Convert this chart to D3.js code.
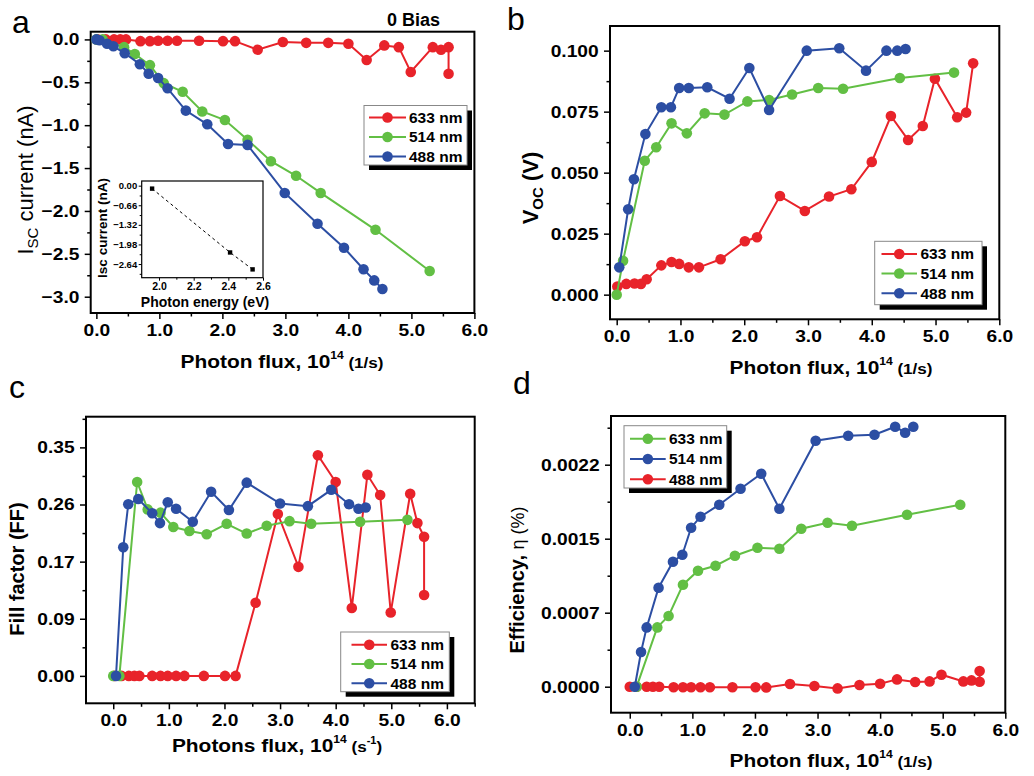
<!DOCTYPE html>
<html><head><meta charset="utf-8">
<script src="https://cdn.jsdelivr.net/npm/d3@7"></script>
<style>
body{margin:0;background:#fff}
svg{display:block}
text{font-family:"Liberation Sans",Arial,sans-serif}
</style></head><body>
<svg id="fig" width="1034" height="776"></svg>
<script>
// ---------- colours ----------
const RED = "#e8232a", GREEN = "#62bf44", BLUE = "#2c4ea3";

// ---------- (a) short-circuit current vs photon flux ----------
const aFlux633 = [0.02,0.15,0.28,0.38,0.47,0.70,0.85,0.98,1.13,1.28,1.63,2.01,2.20,2.56,2.96,3.33,3.68,4.00,4.29,4.57,4.80,4.99,5.34,5.47,5.59,5.59];
const aIsc633  = [0,0,0,0,0,-0.02,-0.02,-0.015,-0.015,-0.015,-0.015,-0.02,-0.02,-0.12,-0.03,-0.04,-0.04,-0.05,-0.24,-0.07,-0.09,-0.38,-0.09,-0.12,-0.09,-0.40];
const aFlux514 = [0,0.10,0.44,0.61,0.85,1.07,1.37,1.68,2.04,2.40,2.77,3.17,3.56,4.43,5.29];
const aIsc514  = [0,0,-0.09,-0.17,-0.30,-0.51,-0.61,-0.84,-0.94,-1.17,-1.42,-1.59,-1.79,-2.22,-2.70];
const aFlux488 = [0,0.05,0.17,0.27,0.45,0.69,0.83,0.98,1.13,1.42,1.76,2.09,2.40,2.99,3.51,3.93,4.24,4.41,4.54];
const aIsc488  = [0,-0.01,-0.05,-0.08,-0.16,-0.29,-0.40,-0.45,-0.57,-0.83,-0.99,-1.22,-1.23,-1.79,-2.15,-2.43,-2.68,-2.81,-2.91];
const aYTicks  = [0,-0.5,-1.0,-1.5,-2.0,-2.5,-3.0];

// inset of (a): Isc against photon energy
const insetEnergy = [1.96, 2.41, 2.54];
const insetIsc    = [-0.10, -2.25, -2.82];
const insetYTicks = [0, -0.66, -1.32, -1.98, -2.64];
const insetXTicks = [2.0, 2.2, 2.4, 2.6];

// ---------- (b) open-circuit voltage ----------
const bFlux633 = [0.01,0.15,0.28,0.38,0.47,0.70,0.86,0.98,1.13,1.29,1.63,2.01,2.20,2.56,2.95,3.33,3.68,4.00,4.30,4.57,4.80,4.99,5.34,5.48,5.59];
const bVoc633  = [0.0033,0.0044,0.0046,0.0044,0.0063,0.0120,0.0134,0.0126,0.0112,0.0112,0.0145,0.0219,0.0235,0.0404,0.0343,0.0402,0.0432,0.0544,0.0732,0.0634,0.0691,0.0885,0.0727,0.0746,0.0948];
const bFlux514 = [0,0.10,0.44,0.62,0.86,1.10,1.38,1.69,2.05,2.39,2.75,3.16,3.55,4.44,5.29];
const bVoc514  = [0,0.0139,0.0549,0.0604,0.0702,0.0661,0.0743,0.0738,0.0792,0.0798,0.0820,0.0847,0.0844,0.0888,0.0910];
const bFlux488 = [0.04,0.18,0.27,0.45,0.70,0.85,0.98,1.13,1.42,1.77,2.08,2.39,2.98,3.49,3.91,4.23,4.40,4.53];
const bVoc488  = [0.0112,0.0350,0.0473,0.0658,0.0768,0.0768,0.0847,0.0847,0.0850,0.0803,0.0929,0.0757,0.1000,0.1010,0.0918,0.1000,0.1000,0.1007];
const bYTicks  = [0,0.025,0.05,0.075,0.1];

// ---------- (c) fill factor ----------
const cFlux633 = [0.02,0.15,0.28,0.38,0.47,0.70,0.85,0.98,1.13,1.28,1.63,2.01,2.20,2.56,2.96,3.33,3.68,4.00,4.29,4.57,4.80,4.99,5.34,5.47,5.59,5.59];
const cFF633   = [0,0,0,0,0,0,0,0,0,0,0,0,0,0.112,0.248,0.167,0.338,0.297,0.104,0.308,0.277,0.097,0.279,0.234,0.213,0.124];
const cFlux514 = [0,0.11,0.43,0.62,0.85,1.08,1.37,1.68,2.04,2.40,2.76,3.17,3.56,4.44,5.29];
const cFF514   = [0,0,0.297,0.255,0.250,0.228,0.222,0.217,0.233,0.218,0.230,0.237,0.233,0.236,0.239];
const cFlux488 = [0.05,0.18,0.27,0.45,0.70,0.84,0.98,1.13,1.43,1.76,2.08,2.40,3.00,3.50,3.92,4.24,4.41,4.54];
const cFF488   = [0,0.197,0.263,0.271,0.249,0.234,0.266,0.256,0.236,0.282,0.254,0.296,0.264,0.260,0.285,0.263,0.256,0.258];
const cYTicks  = [0,0.0875,0.175,0.2625,0.35];
const cYLabels = ["0.00","0.09","0.17","0.26","0.35"];

// ---------- (d) efficiency ----------
const dFluxG = [0.11,0.44,0.62,0.85,1.09,1.37,1.68,2.04,2.39,2.74,3.16,3.55,4.43,5.28];
const dEffG  = [0,0.000593,0.000707,0.00102,0.00116,0.00121,0.00131,0.00139,0.00138,0.00158,0.00164,0.00161,0.00172,0.00182];
const dFluxB = [0.08,0.18,0.27,0.46,0.69,0.84,0.98,1.13,1.43,1.77,2.10,2.39,2.97,3.49,3.91,4.24,4.40,4.53];
const dEffB  = [0,0.000347,0.000593,0.00099,0.00125,0.00132,0.00159,0.00170,0.00182,0.00198,0.00213,0.00178,0.00246,0.00251,0.00252,0.00260,0.00254,0.00260];
const dFluxR = [0,0.11,0.27,0.37,0.47,0.70,0.85,0.98,1.13,1.28,1.64,2.01,2.18,2.56,2.95,3.32,3.67,4.00,4.27,4.56,4.79,4.98,5.33,5.46,5.59,5.59];
const dEffR  = [0,0,0,0,0,-0.000005,-0.000005,-0.000005,-0.000005,-0.000005,-0.000005,-0.000005,-0.000007,0.000027,0.000007,-0.000017,0.000017,0.00003,0.000073,0.000047,0.000053,0.00012,0.000053,0.000063,0.00005,0.000157];
const dYTicks  = [0,0.00074,0.00148,0.00222];
const dYLabels = ["0.0000","0.0007","0.0015","0.0022"];

const fluxTicks = [0,1,2,3,4,5,6];
const legendNames = ["633 nm","514 nm","488 nm"];

// ---------- drawing helpers ----------
const svg = d3.select("#fig");
const FONT = '"Liberation Sans", Arial, sans-serif';
const STRETCH = 1.13;   // tick labels are set slightly wide

function styleAxis(sel, size, stretch) {
  sel.select(".domain").remove();
  sel.attr("font-family", FONT).attr("font-size", size).attr("font-weight", "bold");
  sel.selectAll("line").attr("stroke", "#000").attr("stroke-width", 1.5);
  sel.selectAll("text").attr("fill", "#000");
  if (stretch) sel.selectAll("text").attr("transform", `scale(${stretch},1)`);
}

function drawPanel(p) {
  const g = svg.append("g");
  const [fx0, fy0, fx1, fy1] = p.frame;
  const x = d3.scaleLinear().domain(p.xDomain).range([fx0, fx1]);
  const y = d3.scaleLinear().domain(p.yDomain).range([fy1, fy0]);

  g.append("g").attr("transform", `translate(0,${fy1})`)
    .call(d3.axisBottom(x).tickValues(p.xMinor).tickSize(3.5).tickSizeOuter(0).tickFormat(""))
    .call(s => styleAxis(s, 17));
  g.append("g").attr("transform", `translate(0,${fy1})`)
    .call(d3.axisBottom(x).tickValues(p.xTicks).tickSize(6).tickPadding(5).tickSizeOuter(0).tickFormat(d3.format(".1f")))
    .call(s => styleAxis(s, 17, STRETCH));
  g.append("g").attr("transform", `translate(${fx0},0)`)
    .call(d3.axisLeft(y).tickValues(p.yMinor).tickSize(3.5).tickSizeOuter(0).tickFormat(""))
    .call(s => styleAxis(s, 17));
  g.append("g").attr("transform", `translate(${fx0},0)`)
    .call(d3.axisLeft(y).tickValues(p.yTicks).tickSize(6).tickPadding(4).tickSizeOuter(0).tickFormat(p.yFmt))
    .call(s => styleAxis(s, 17, STRETCH));

  g.append("rect").attr("x", fx0).attr("y", fy0).attr("width", fx1 - fx0).attr("height", fy1 - fy0)
    .attr("fill", "none").attr("stroke", "#000").attr("stroke-width", 2);

  const line = d3.line().x(d => x(d[0])).y(d => y(d[1]));
  p.series.forEach(s => {
    const pts = s.x.map((v, i) => [v, s.y[i]]);
    g.append("path").datum(pts).attr("d", line).attr("fill", "none")
      .attr("stroke", s.color).attr("stroke-width", 2);
    g.selectAll(null).data(pts).join("circle")
      .attr("cx", d => x(d[0])).attr("cy", d => y(d[1])).attr("r", 5.3).attr("fill", s.color);
  });

  // legend box with drop shadow
  const L = p.legend;
  g.append("rect").attr("x", L.x0 + 5).attr("y", L.y0 + 5).attr("width", L.x1 - L.x0).attr("height", L.y1 - L.y0).attr("fill", "#000");
  g.append("rect").attr("x", L.x0).attr("y", L.y0).attr("width", L.x1 - L.x0).attr("height", L.y1 - L.y0)
    .attr("fill", "#fff").attr("stroke", "#888").attr("stroke-width", 1);
  L.rows.forEach((r, i) => {
    const ry = L.rowY[i];
    g.append("line").attr("x1", L.lx0).attr("x2", L.lx1).attr("y1", ry).attr("y2", ry)
      .attr("stroke", r.color).attr("stroke-width", 2);
    g.append("circle").attr("cx", (L.lx0 + L.lx1) / 2).attr("cy", ry).attr("r", 5.3).attr("fill", r.color);
    g.append("text").attr("x", L.tx).attr("y", ry + 5.3).attr("font-size", 15.5).attr("font-weight", "bold")
      .attr("fill", "#000").text(r.label);
  });
  return {x, y, g};
}

function xTitle(cx, by, main, tail) {
  const t = svg.append("text").attr("transform", `translate(${cx},${by}) scale(1.1,1)`).attr("text-anchor", "middle")
    .attr("font-size", 19).attr("font-weight", "bold").attr("fill", "#000");
  t.append("tspan").text(main);
  t.append("tspan").attr("font-size", 11).attr("dy", -9).text("14");
  t.append("tspan").attr("dy", 9).attr("font-size", 15.5).text(" " + tail[0]);
  if (tail.length > 1) {
    t.append("tspan").attr("font-size", 10).attr("dy", -8).text(tail[1]);
    t.append("tspan").attr("font-size", 15.5).attr("dy", 8).text(tail[2]);
  }
}

function yTitle(bx, cy, parts, opts) {
  const t = svg.append("text").attr("transform", `translate(${bx},${cy}) rotate(-90)`)
    .attr("text-anchor", "middle").attr("font-size", opts.size).attr("font-weight", opts.weight)
    .attr("font-family", opts.family || FONT).attr("fill", "#000");
  parts.forEach(pt => {
    const s = t.append("tspan").text(pt.t);
    if (pt.size) s.attr("font-size", pt.size);
    if (pt.dy) s.attr("dy", pt.dy);
    if (pt.weight) s.attr("font-weight", pt.weight);
  });
}

function panelLetter(x, y, s) {
  svg.append("text").attr("x", x).attr("y", y).attr("font-family", '"Open Sans", sans-serif')
    .attr("font-size", 32).attr("fill", "#000").text(s);
}

// ---------- panel (a) ----------
const rows3 = [{label: legendNames[0], color: RED}, {label: legendNames[1], color: GREEN}, {label: legendNames[2], color: BLUE}];
drawPanel({
  frame: [90.7, 31.7, 474.4, 313],
  xDomain: [-0.09, 6.0], yDomain: [-3.19, 0.09],
  xTicks: fluxTicks, xMinor: d3.range(0.5, 6, 1),
  yTicks: aYTicks, yMinor: d3.range(-0.25, -3.1, -0.5), yFmt: d3.format(".1f"),
  series: [{x: aFlux633, y: aIsc633, color: RED}, {x: aFlux514, y: aIsc514, color: GREEN}, {x: aFlux488, y: aIsc488, color: BLUE}],
  legend: {x0: 364, y0: 105.5, x1: 467, y1: 165, rowY: [117.5, 137, 156.5], lx0: 369, lx1: 406, tx: 409, rows: rows3}
});
svg.append("text").attr("x", 387).attr("y", 26).attr("font-size", 18).attr("font-weight", "bold").text("0 Bias");

// inset
(function () {
  const fr = [141.7, 181, 263, 277.7];
  const x = d3.scaleLinear().domain([1.9, 2.6]).range([fr[0], fr[2]]);
  const y = d3.scaleLinear().domain([-3.10, 0.157]).range([fr[3], fr[1]]);
  const g = svg.append("g");
  g.append("g").attr("transform", `translate(0,${fr[3]})`)
    .call(d3.axisBottom(x).tickValues([2.1, 2.3, 2.5]).tickSize(2).tickSizeOuter(0).tickFormat(""))
    .call(s => styleAxis(s, 10));
  g.append("g").attr("transform", `translate(0,${fr[3]})`)
    .call(d3.axisBottom(x).tickValues(insetXTicks).tickSize(3).tickPadding(2).tickSizeOuter(0).tickFormat(d3.format(".1f")))
    .call(s => styleAxis(s, 10.5));
  g.append("g").attr("transform", `translate(${fr[0]},0)`)
    .call(d3.axisLeft(y).tickValues([-0.33, -0.99, -1.65, -2.31, -2.97]).tickSize(2).tickSizeOuter(0).tickFormat(""))
    .call(s => styleAxis(s, 10));
  g.append("g").attr("transform", `translate(${fr[0]},0)`)
    .call(d3.axisLeft(y).tickValues(insetYTicks).tickSize(3).tickPadding(1.5).tickSizeOuter(0).tickFormat(d3.format(".2f")))
    .call(s => styleAxis(s, 9.5));
  g.selectAll("line").attr("stroke-width", 1);
  g.append("rect").attr("x", fr[0]).attr("y", fr[1]).attr("width", fr[2] - fr[0]).attr("height", fr[3] - fr[1])
    .attr("fill", "none").attr("stroke", "#000").attr("stroke-width", 1.2);
  const pts = insetEnergy.map((v, i) => [v, insetIsc[i]]);
  g.append("path").datum(pts).attr("d", d3.line().x(d => x(d[0])).y(d => y(d[1])))
    .attr("fill", "none").attr("stroke", "#000").attr("stroke-width", 1).attr("stroke-dasharray", "3,3");
  g.selectAll(null).data(pts).join("rect").attr("x", d => x(d[0]) - 2.2).attr("y", d => y(d[1]) - 2.2)
    .attr("width", 4.4).attr("height", 4.4).attr("fill", "#000");
  svg.append("text").attr("x", 205).attr("y", 307).attr("text-anchor", "middle").attr("font-size", 14)
    .attr("font-weight", "bold").text("Photon energy (eV)");
  svg.append("text").attr("transform", "translate(107,228) rotate(-90)").attr("text-anchor", "middle")
    .attr("font-size", 13.5).attr("font-weight", "bold").text("Isc current (nA)");
})();

// ---------- panel (b) ----------
drawPanel({
  frame: [610, 26, 999.3, 319.3],
  xDomain: [-0.105, 6.0], yDomain: [-0.0101, 0.1101],
  xTicks: fluxTicks, xMinor: d3.range(0.5, 6, 1),
  yTicks: bYTicks, yMinor: d3.range(0.0125, 0.11, 0.025), yFmt: d3.format(".3f"),
  series: [{x: bFlux633, y: bVoc633, color: RED}, {x: bFlux514, y: bVoc514, color: GREEN}, {x: bFlux488, y: bVoc488, color: BLUE}],
  legend: {x0: 874.7, y0: 241.3, x1: 982, y1: 304.7, rowY: [254, 273.5, 293.3], lx0: 881.5, lx1: 917, tx: 920.5, rows: rows3}
});

// ---------- panel (c) ----------
drawPanel({
  frame: [86, 416.7, 474.7, 703.3],
  xDomain: [-0.49, 6.5], yDomain: [-0.042, 0.397],
  xTicks: fluxTicks, xMinor: d3.range(0.5, 6.6, 1),
  yTicks: cYTicks, yMinor: [0.04375, 0.13125, 0.21875, 0.30625, 0.39375], yFmt: (d, i) => cYLabels[i],
  series: [{x: cFlux633, y: cFF633, color: RED}, {x: cFlux514, y: cFF514, color: GREEN}, {x: cFlux488, y: cFF488, color: BLUE}],
  legend: {x0: 340.7, y0: 632, x1: 449.3, y1: 691.7, rowY: [644.7, 664, 683.3], lx0: 351.5, lx1: 387, tx: 390.5, rows: rows3}
});

// ---------- panel (d) ----------
drawPanel({
  frame: [611, 416, 1005.3, 712.7],
  xDomain: [-0.30, 6.0], yDomain: [-0.00026, 0.002707],
  xTicks: fluxTicks, xMinor: d3.range(0.5, 6, 1),
  yTicks: dYTicks, yMinor: [0.00037, 0.00111, 0.00185, 0.00259], yFmt: (d, i) => dYLabels[i],
  series: [{x: dFluxR, y: dEffR, color: RED}, {x: dFluxG, y: dEffG, color: GREEN}, {x: dFluxB, y: dEffB, color: BLUE}],
  legend: {x0: 624, y0: 425.7, x1: 726.7, y1: 488, rowY: [438.7, 459, 479.3], lx0: 630, lx1: 665.7, tx: 669,
    rows: [{label: legendNames[0], color: GREEN}, {label: legendNames[1], color: BLUE}, {label: legendNames[2], color: RED}]}
});

// ---------- titles & panel letters ----------
xTitle(282, 368, "Photon flux, 10", ["(1/s)"]);
xTitle(831, 374, "Photon flux, 10", ["(1/s)"]);
xTitle(277, 752, "Photons flux, 10", ["(s", "-1", ")"]);
xTitle(831, 767, "Photon flux, 10", ["(1/s)"]);

yTitle(33, 180, [{t: "I"}, {t: "SC", size: 15, dy: 5}, {t: " current (nA)", dy: -5}],
  {size: 22, weight: "normal", family: '"Open Sans", sans-serif'});
yTitle(538, 188, [{t: "V"}, {t: "OC", size: 15, dy: 5}, {t: " (V)", dy: -5}], {size: 22, weight: "bold"});
yTitle(24, 569, [{t: "Fill factor (FF)"}], {size: 20, weight: "bold"});
yTitle(524, 580, [{t: "Efficiency, "}, {t: "η (%)", weight: "normal", size: 18}], {size: 20, weight: "bold"});

panelLetter(12, 33, "a");
panelLetter(507, 30, "b");
panelLetter(9, 398, "c");
panelLetter(513, 394, "d");
</script>
</body></html>
